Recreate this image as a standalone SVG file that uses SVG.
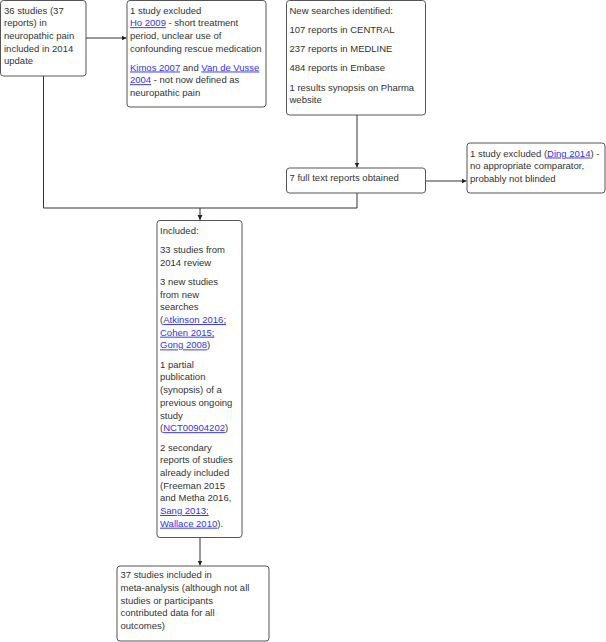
<svg xmlns="http://www.w3.org/2000/svg" width="606" height="642" viewBox="0 0 606 642">
<style>
.box{fill:#fff;stroke:#555;stroke-width:1}
text{font-family:"Liberation Sans",Arial,sans-serif;font-size:9.5px;fill:#333}
.lk{fill:#3333ee;text-decoration:underline}
.cn{stroke:#333;stroke-width:1;fill:none}
</style>
<defs>
<marker id="ah" markerWidth="6" markerHeight="6" refX="5" refY="3" orient="auto" markerUnits="userSpaceOnUse">
<path d="M0,0.5 L5,3 L0,5.5 Z" fill="#222"/>
</marker>
</defs>
<g id="connectors">
<line class="cn" x1="86" y1="38" x2="126.5" y2="38" marker-end="url(#ah)"/>
<line class="cn" x1="357" y1="115" x2="357" y2="167.5" marker-end="url(#ah)"/>
<line class="cn" x1="426" y1="181" x2="466.5" y2="181" marker-end="url(#ah)"/>
<polyline class="cn" points="43.5,76 43.5,208 357,208 357,193"/>
<line class="cn" x1="200" y1="208" x2="200" y2="220" marker-end="url(#ah)"/>
<line class="cn" x1="200" y1="538" x2="200" y2="565.5" marker-end="url(#ah)"/>
</g>
<g id="n1">
<rect class="box" x="0.5" y="0.5" width="85.5" height="75.5" rx="3"/>
<text x="4"><tspan x="4" y="13.5">36 studies (37</tspan><tspan x="4" y="26.2">reports) in</tspan><tspan x="4" y="38.9">neuropathic pain</tspan><tspan x="4" y="51.6">included in 2014</tspan><tspan x="4" y="64.3">update</tspan></text>
</g>
<g id="n2">
<rect class="box" x="127" y="0.5" width="139" height="106.5" rx="3"/>
<text><tspan x="130" y="13.5">1 study excluded</tspan></text>
<text><tspan x="130" y="26.2" class="lk">Ho 2009</tspan><tspan> - short treatment</tspan></text>
<text><tspan x="130" y="38.9">period, unclear use of</tspan><tspan x="130" y="51.6">confounding rescue medication</tspan></text>
<text><tspan x="130" y="70.5" class="lk">Kimos 2007</tspan><tspan> and </tspan><tspan class="lk">Van de Vusse</tspan></text>
<text><tspan x="130" y="83.2" class="lk">2004</tspan><tspan> - not now defined as</tspan></text>
<text><tspan x="130" y="95.9">neuropathic pain</tspan></text>
</g>
<g id="n3">
<rect class="box" x="286.5" y="0.5" width="139" height="114.5" rx="3"/>
<text><tspan x="289.5" y="13.5">New searches identified:</tspan><tspan x="289.5" y="32.5">107 reports in CENTRAL</tspan><tspan x="289.5" y="51.9">237 reports in MEDLINE</tspan><tspan x="289.5" y="71.2">484 reports in Embase</tspan><tspan x="289.5" y="90.5">1 results synopsis on Pharma</tspan><tspan x="289.5" y="103.2">website</tspan></text>
</g>
<g id="n4">
<rect class="box" x="286.5" y="168" width="139" height="25" rx="3"/>
<text x="289.5" y="180.9">7 full text reports obtained</text>
</g>
<g id="n5">
<rect class="box" x="467" y="143" width="138" height="50" rx="3"/>
<text><tspan x="470" y="156.5">1 study excluded (</tspan><tspan class="lk">Ding 2014</tspan><tspan>) -</tspan></text>
<text><tspan x="470" y="169.2">no appropriate comparator,</tspan><tspan x="470" y="181.9">probably not blinded</tspan></text>
</g>
<g id="n6">
<rect class="box" x="157" y="220.5" width="85" height="317" rx="3"/>
<text><tspan x="160" y="233.9">Included:</tspan><tspan x="160" y="253.2">33 studies from</tspan><tspan x="160" y="265.9">2014 review</tspan><tspan x="160" y="284.9">3 new studies</tspan><tspan x="160" y="297.6">from new</tspan><tspan x="160" y="310.3">searches</tspan></text>
<text><tspan x="160" y="323">(</tspan><tspan class="lk">Atkinson 2016;</tspan></text>
<text><tspan x="160" y="335.7" class="lk">Cohen 2015;</tspan></text>
<text><tspan x="160" y="348.4" class="lk">Gong 2008</tspan><tspan>)</tspan></text>
<text><tspan x="160" y="367.7">1 partial</tspan><tspan x="160" y="380.4">publication</tspan><tspan x="160" y="393.1">(synopsis) of a</tspan><tspan x="160" y="405.8">previous ongoing</tspan><tspan x="160" y="418.5">study</tspan></text>
<text><tspan x="160" y="431.2">(</tspan><tspan class="lk">NCT00904202</tspan><tspan>)</tspan></text>
<text><tspan x="160" y="450.5">2 secondary</tspan><tspan x="160" y="463.2">reports of studies</tspan><tspan x="160" y="475.9">already included</tspan><tspan x="160" y="488.6">(Freeman 2015</tspan><tspan x="160" y="501.3">and Metha 2016,</tspan></text>
<text><tspan x="160" y="514" class="lk">Sang 2013;</tspan></text>
<text><tspan x="160" y="526.7" class="lk">Wallace 2010</tspan><tspan>).</tspan></text>
</g>
<g id="n7">
<rect class="box" x="117" y="566" width="152" height="75" rx="3"/>
<text><tspan x="120.5" y="578.2">37 studies included in</tspan><tspan x="120.5" y="590.9">meta-analysis (although not all</tspan><tspan x="120.5" y="603.6">studies or participants</tspan><tspan x="120.5" y="616.3">contributed data for all</tspan><tspan x="120.5" y="629">outcomes)</tspan></text>
</g>
</svg>
